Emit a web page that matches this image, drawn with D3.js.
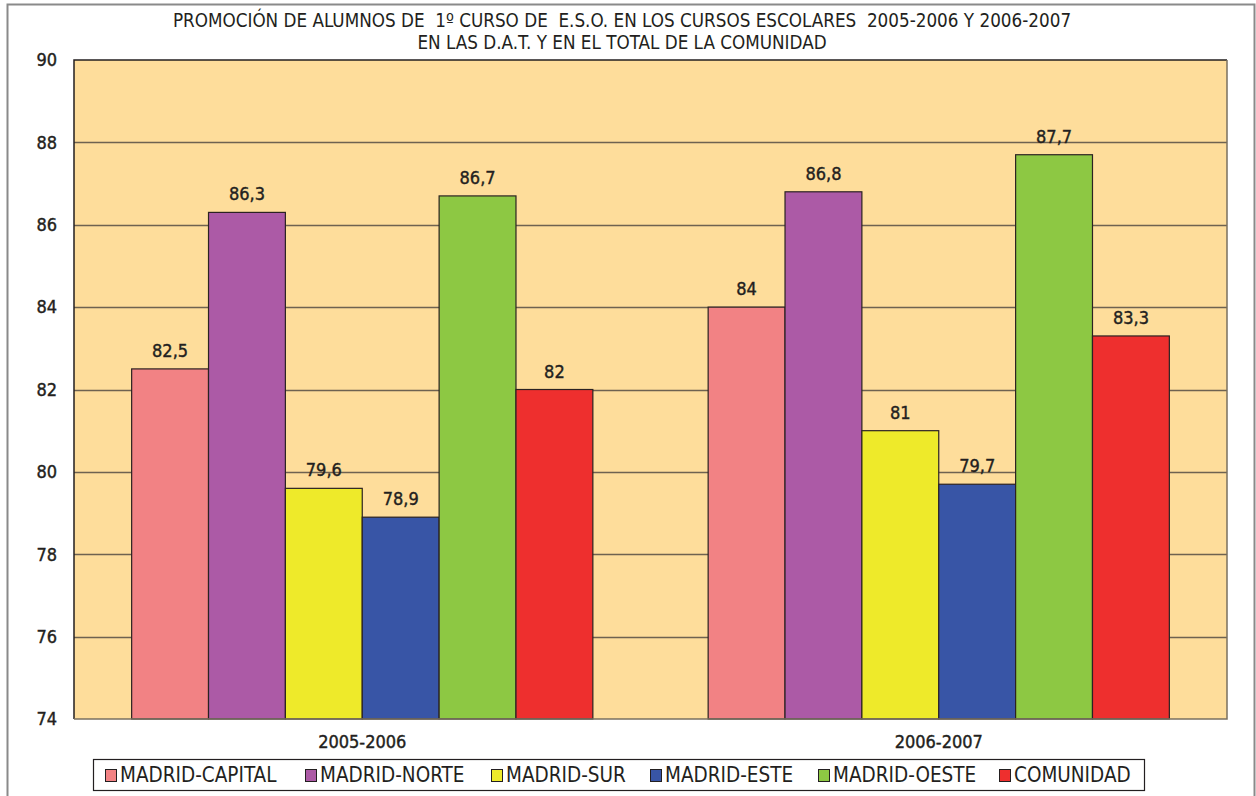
<!DOCTYPE html>
<html>
<head>
<meta charset="utf-8">
<script src="https://cdn.jsdelivr.net/npm/d3@7"></script>
<style>
  body { margin: 0; background: #fff; }
  text { font-family: "DejaVu Sans Condensed", "Liberation Sans Narrow", sans-serif; fill: #231f20; white-space: pre; }
  text.heavy { stroke: #231f20; stroke-width: 0.4px; }
</style>
</head>
<body>
<div id="viz"></div>
<script>
// data
var years = ["2005-2006", "2006-2007"];
var zones = ["MADRID-CAPITAL", "MADRID-NORTE", "MADRID-SUR", "MADRID-ESTE", "MADRID-OESTE", "COMUNIDAD"];
var values2005 = [82.5, 86.3, 79.6, 78.9, 86.7, 82];
var values2006 = [84, 86.8, 81, 79.7, 87.7, 83.3];
var yTicks = [74, 76, 78, 80, 82, 84, 86, 88, 90];
var colors = ["#f28284", "#ac5aa6", "#eeea2a", "#3855a6", "#8dc843", "#ee2f2e"];
var titleLines = [
  "PROMOCIÓN DE ALUMNOS DE  1º CURSO DE  E.S.O. EN LOS CURSOS ESCOLARES  2005-2006 Y 2006-2007",
  "EN LAS D.A.T. Y EN EL TOTAL DE LA COMUNIDAD"
];

var w = 1256, h = 796;
var plot = { left: 74, right: 1227, top: 60, bottom: 719 };

var svg = d3.select("div#viz").append("svg")
  .attr("width", w)
  .attr("height", h);

// outer frame
svg.append("rect")
  .attr("x", 7.5).attr("y", 4.5)
  .attr("width", 1247).attr("height", 800)
  .attr("fill", "#fff")
  .attr("stroke", "#8a8a8a")
  .attr("stroke-width", 2);

// title
svg.selectAll("text.title").data(titleLines).enter().append("text")
  .attr("class", "title")
  .attr("x", 622)
  .attr("y", function (d, i) { return 27 + i * 22; })
  .attr("text-anchor", "middle")
  .style("font-size", "18.7px")
  .text(function (d) { return d; });

var y = d3.scaleLinear().domain([74, 90]).range([plot.bottom, plot.top]);
var x0 = d3.scaleBand().domain(years).range([plot.left, plot.right]).paddingInner(0.2).paddingOuter(0.1);
var x1 = d3.scaleBand().domain(zones).range([0, x0.bandwidth()]);

// plot background
svg.append("rect")
  .attr("x", plot.left).attr("y", plot.top)
  .attr("width", plot.right - plot.left).attr("height", plot.bottom - plot.top)
  .attr("fill", "#fedd9b");

// gridlines
svg.append("g").selectAll("line").data(yTicks.slice(1, -1)).enter().append("line")
  .attr("x1", plot.left).attr("x2", plot.right)
  .attr("y1", function (d) { return Math.round(y(d)) + 0.5; })
  .attr("y2", function (d) { return Math.round(y(d)) + 0.5; })
  .attr("stroke", "#6e6250")
  .attr("stroke-width", 1.5);

// bars
var series = [values2005, values2006];
var groups = svg.append("g").selectAll("g").data(years).enter().append("g")
  .attr("transform", function (d) { return "translate(" + x0(d) + ",0)"; });

groups.selectAll("rect").data(function (d, i) {
    return zones.map(function (z, j) { return { zone: z, value: series[i][j], idx: j }; });
  }).enter().append("rect")
  .attr("x", function (d) { return x1(d.zone); })
  .attr("y", function (d) { return y(d.value); })
  .attr("width", x1.bandwidth())
  .attr("height", function (d) { return plot.bottom - y(d.value); })
  .attr("fill", function (d) { return colors[d.idx]; })
  .attr("stroke", "#2b2222")
  .attr("stroke-width", 1.2);

groups.selectAll("text").data(function (d, i) {
    return zones.map(function (z, j) { return { zone: z, value: series[i][j] }; });
  }).enter().append("text")
  .attr("class", "heavy")
  .attr("x", function (d) { return x1(d.zone) + x1.bandwidth() / 2; })
  .attr("y", function (d) { return y(d.value) - 12; })
  .attr("text-anchor", "middle")
  .style("font-size", "18px")
  .text(function (d) { return String(d.value).replace(".", ","); });

// plot frame (left and top dark)
svg.append("path")
  .attr("d", "M" + plot.left + "," + plot.bottom + "V" + plot.top + "H" + plot.right)
  .attr("fill", "none").attr("stroke", "#231f20").attr("stroke-width", 1.5);
svg.append("path")
  .attr("d", "M" + plot.right + "," + plot.top + "V" + plot.bottom + "H" + plot.left)
  .attr("fill", "none").attr("stroke", "#7a7060").attr("stroke-width", 1.5);

// y axis
var yAxis = d3.axisLeft(y).tickValues(yTicks).tickSize(0).tickPadding(17);
var ya = svg.append("g").attr("transform", "translate(" + plot.left + ",0)").call(yAxis);
ya.select(".domain").remove();
ya.selectAll("text")
  .attr("class", "heavy")
  .style("font-size", "18px")
  .attr("font-family", null);

// x axis
var xAxis = d3.axisBottom(x0).tickSize(0).tickPadding(16);
var xa = svg.append("g").attr("transform", "translate(0," + plot.bottom + ")").call(xAxis);
xa.select(".domain").remove();
xa.selectAll("text")
  .attr("class", "heavy")
  .style("font-size", "18px")
  .attr("font-family", null);

// legend
var legendX = [105, 305, 491, 650, 818, 999];
var legend = svg.append("g");
legend.append("rect")
  .attr("x", 93.5).attr("y", 759.5)
  .attr("width", 1051).attr("height", 31)
  .attr("fill", "#fff").attr("stroke", "#231f20").attr("stroke-width", 1.2);
var items = legend.selectAll("g").data(zones).enter().append("g")
  .attr("transform", function (d, i) { return "translate(" + legendX[i] + ",0)"; });
items.append("rect")
  .attr("x", 0.5).attr("y", 769.5)
  .attr("width", 11).attr("height", 12)
  .attr("fill", function (d, i) { return colors[i]; })
  .attr("stroke", "#231f20").attr("stroke-width", 1);
items.append("text")
  .attr("x", 15).attr("y", 782)
  .style("font-size", "20.5px")
  .text(function (d) { return d; });
</script>
</body>
</html>
